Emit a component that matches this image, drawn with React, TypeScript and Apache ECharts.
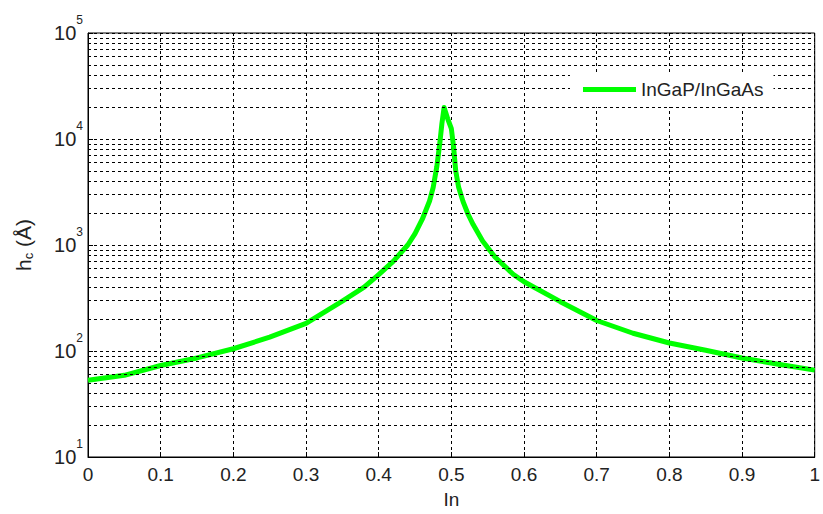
import React, { useEffect, useRef } from "react";
import * as echarts from "echarts";

const seriesName = "InGaP/InGaAs";
const xValues = [0, 0.05, 0.1, 0.15, 0.2, 0.25, 0.3, 0.35, 0.38, 0.4, 0.42, 0.44, 0.45, 0.46, 0.47, 0.475, 0.48, 0.484, 0.487, 0.49, 0.495, 0.5, 0.503, 0.506, 0.51, 0.516, 0.523, 0.53, 0.543, 0.56, 0.585, 0.6, 0.65, 0.7, 0.75, 0.8, 0.85, 0.9, 0.95, 1.0];
const hcValues = [53, 59, 73, 86, 105, 135, 182, 295, 400, 525, 700, 1000, 1280, 1750, 2600, 3500, 5500, 9000, 14000, 19800, 15500, 12500, 8500, 5000, 3500, 2580, 1950, 1560, 1090, 770, 530, 450, 292, 194, 147, 119, 101.6, 86, 75, 66];
const minorGridValues = [20, 30, 40, 50, 60, 70, 80, 90, 200, 300, 400, 500, 600, 700, 800, 900, 2000, 3000, 4000, 5000, 6000, 7000, 8000, 9000, 20000, 30000, 40000, 50000, 60000, 70000, 80000, 90000];
const xTicks = [0, 0.1, 0.2, 0.3, 0.4, 0.5, 0.6, 0.7, 0.8, 0.9, 1];

const FONT = "'Liberation Sans', Arial, sans-serif";
const TEXT = "#222";

export default function App() {
  const ref = useRef<HTMLDivElement>(null);
  useEffect(() => {
    if (!ref.current) return;
    const chart = echarts.init(ref.current, null, { renderer: "svg" });
    const gridLine = { type: [3, 3] as any, color: "#000", width: 1 };
    chart.setOption({
      animation: false,
      backgroundColor: "#fff",
      textStyle: { fontFamily: FONT },
      grid: {
        left: 88,
        right: 1,
        top: 33,
        bottom: 52,
        show: true,
        borderColor: "#000",
        borderWidth: 1,
        backgroundColor: "transparent",
      },
      legend: {
        data: [seriesName],
        left: 570,
        top: 72,
        padding: [8, 10, 8, 13],
        backgroundColor: "#fff",
        icon: "rect",
        itemWidth: 53,
        itemHeight: 5,
        z: 10,
        textStyle: { fontSize: 19, color: TEXT, fontFamily: FONT },
      },
      xAxis: {
        type: "value",
        min: 0,
        max: 1,
        interval: 0.1,
        name: "In",
        nameLocation: "middle",
        nameGap: 33,
        nameTextStyle: { fontSize: 19, color: TEXT, fontFamily: FONT },
        axisLine: { show: true, onZero: false, lineStyle: { color: "#000", width: 1 } },
        axisTick: { show: true, inside: true, length: 5, lineStyle: { color: "#000" } },
        axisLabel: {
          fontSize: 19,
          color: TEXT,
          margin: 8,
          fontFamily: FONT,
          formatter: (v: number) => {
            const t = xTicks.find((k) => Math.abs(k - v) < 1e-6);
            return t === undefined ? "" : String(+t.toFixed(1));
          },
        },
        splitLine: { show: true, lineStyle: gridLine },
      },
      yAxis: {
        type: "log",
        logBase: 10,
        min: 10,
        max: 100000,
        splitNumber: 4,
        name: "h{sub|c} (Å)",
        nameLocation: "middle",
        nameGap: 53,
        nameRotate: 90,
        nameTextStyle: {
          fontSize: 21,
          color: TEXT,
          fontFamily: FONT,
          rich: {
            sub: { fontSize: 13, color: TEXT, fontFamily: FONT, padding: [11, 0, 0, 0] },
          },
        },
        axisLine: { show: true, lineStyle: { color: "#000", width: 1 } },
        axisTick: { show: true, inside: true, length: 5, lineStyle: { color: "#000" } },
        axisLabel: {
          fontSize: 20,
          color: TEXT,
          margin: 5,
          fontFamily: FONT,
          formatter: (v: number) => `10{sup|${Math.round(Math.log10(v))}}`,
          rich: {
            sup: { fontSize: 12, color: TEXT, fontFamily: FONT, padding: [0, 0, 26, 0] },
          },
        },
        splitLine: { show: true, lineStyle: gridLine },
      },
      series: [
        {
          name: "minor-grid",
          type: "line",
          data: [],
          z: 1,
          silent: true,
          markLine: {
            silent: true,
            symbol: "none",
            label: { show: false },
            lineStyle: gridLine,
            data: minorGridValues.map((v) => ({ yAxis: v })),
          },
        },
        {
          name: seriesName,
          type: "line",
          z: 3,
          data: xValues.map((x, i) => [x, hcValues[i]]),
          showSymbol: false,
          smooth: false,
          color: "#00ff00",
          lineStyle: { color: "#00ff00", width: 5, join: "round" },
        },
      ],
    });
    return () => chart.dispose();
  }, []);
  return (
    <div
      ref={ref}
      style={{ position: "absolute", left: 0, top: 0, width: 823, height: 514 }}
    />
  );
}
